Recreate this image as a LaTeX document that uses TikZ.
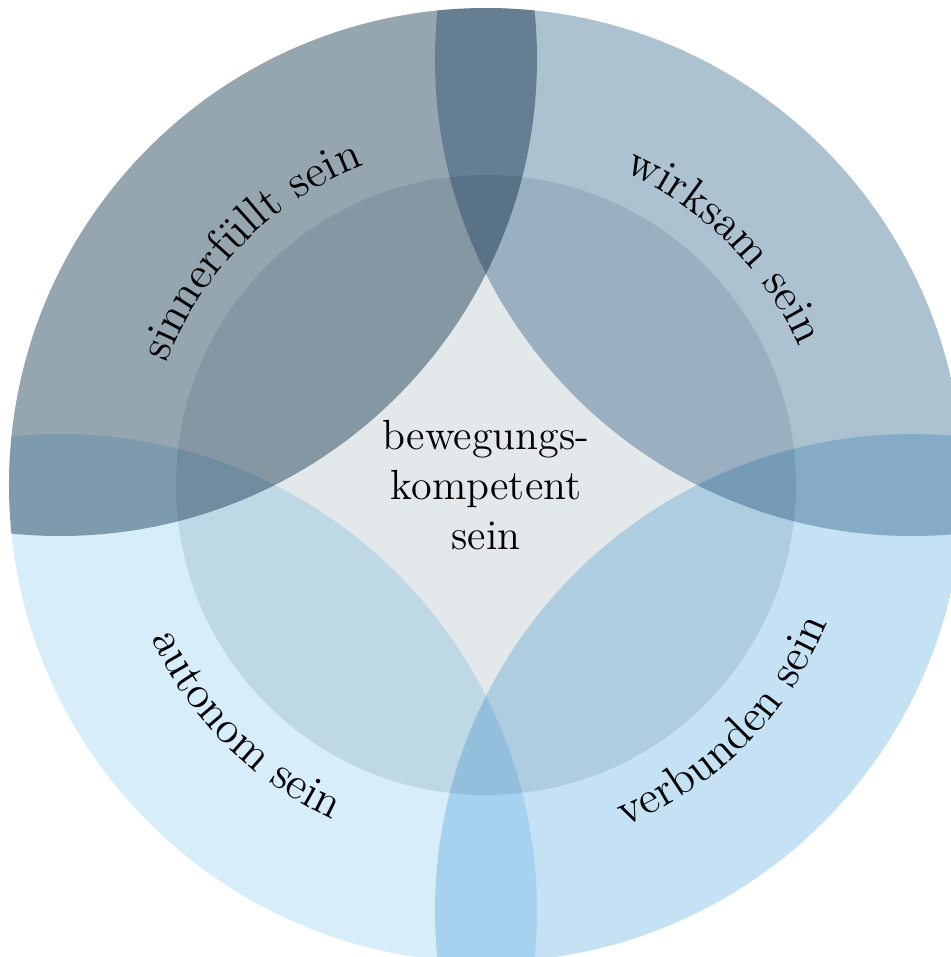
\documentclass[tikz,border=0pt]{standalone}
\usepackage{fontspec}
\usetikzlibrary{decorations.text}

\begin{document}
\begin{tikzpicture}

\def\size{4.77}
\def\shift{4.26}
\def\inner{3.1}
\def\upper{3.42}
\def\lower{3.68}
\definecolor{sinncolor}{RGB}{150,166,177}
\definecolor{wirkcolor}{RGB}{173,194,209}
\definecolor{autocolor}{RGB}{215,238,250}
\definecolor{verbcolor}{RGB}{197,226,244}
\definecolor{kerncolor}{RGB}{227,232,235}
\coordinate (center) at (0, 0);

\useasboundingbox (-4.86, -4.72) rectangle (4.65, 4.85);

\begin{scope}[blend group=multiply]
\clip (center) circle (\size cm);
\fill[sinncolor] (-\shift, \shift) circle (\size cm);
\fill[wirkcolor] (\shift, \shift) circle (\size cm);
\fill[autocolor] (-\shift, -\shift) circle (\size cm);
\fill[verbcolor] (\shift, -\shift) circle (\size cm);
\fill[kerncolor] (center) circle (\inner cm);
\end{scope}

\path[decorate, decoration={text along path, text align=center, text={|\fontsize{13}{15}\selectfont|sinnerfüllt sein}}] (180:\upper) arc[start angle=180, end angle=90, radius=\upper];

\path[decorate, decoration={text along path, text align=center, text={|\fontsize{13}{15}\selectfont|wirksam sein}}] (90:\upper) arc[start angle=90, end angle=0, radius=\upper];

\path[decorate, decoration={text along path, text align=center, text={|\fontsize{13}{15}\selectfont|autonom sein}}] (180:\lower) arc[start angle=180, end angle=270, radius=\lower];

\path[decorate, decoration={text along path, text align=center, text={|\fontsize{13}{15}\selectfont|verbunden sein}}] (270:\lower) arc[start angle=270, end angle=360, radius=\lower];

\node[align=center, font=\fontsize{12}{14.2}\selectfont] (kern) at (center) {bewegungs-\\kompetent\\sein};

\end{tikzpicture}
\end{document}
